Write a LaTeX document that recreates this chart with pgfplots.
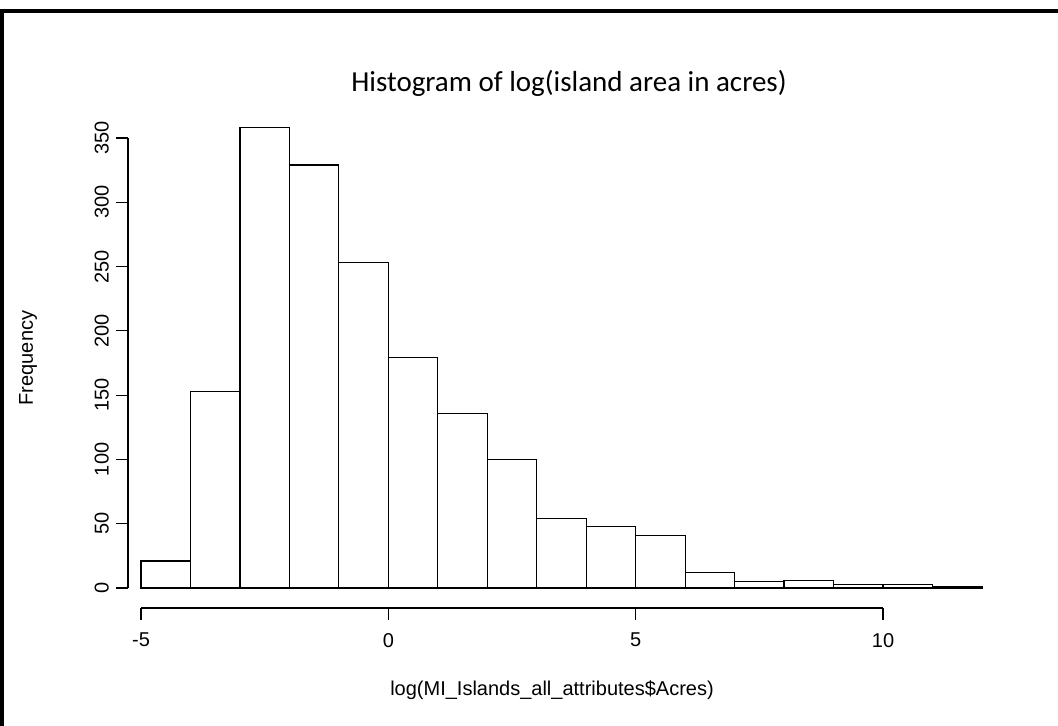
\documentclass[border=0pt]{standalone}
\usepackage{pgfplots}
\pgfplotsset{compat=1.18}
\usepackage{fontspec}
\setmainfont{Liberation Sans}
\newfontfamily\titlefont{Carlito}
\begin{document}
\begin{tikzpicture}
\path[use as bounding box] (0pt,0pt) rectangle (529pt,-363pt);
\fill[white] (0pt,0pt) rectangle (529pt,-363pt);
% frame
\draw[line width=2pt,black] (1pt,-363pt) -- (1pt,-5.5pt) -- (529pt,-5.5pt);
\begin{axis}[
  name=main,
  scale only axis,
  width=371pt, height=235pt,
  at={(70.5pt,-304pt)}, anchor=south west,
  xmin=-5, xmax=10, ymin=-15.56, ymax=350,
  axis x line*=bottom, axis y line=none,
  clip=false,
  xtick={-5,0,5,10},
  tick align=outside,
  major tick length=6pt,
  tick style={black, line width=0.6pt},
  axis line style={black, line width=0.6pt, -},
  xticklabel style={font=\fontsize{10}{12}\selectfont, yshift=-3pt},
  /pgf/number format/assume math mode=true,
]
\addplot[ybar interval, fill=white, draw=black, line width=0.6pt] coordinates {
(-5,21) (-4,153) (-3,358) (-2,329) (-1,253) (0,179) (1,136) (2,100)
(3,54) (4,48) (5,41) (6,12) (7,5) (8,6) (9,3) (10,3) (11,1) (12,1)
};
\end{axis}
\begin{axis}[
  scale only axis,
  width=10pt, height=225pt,
  at={(64pt,-294pt)}, anchor=south west,
  xmin=0, xmax=1, ymin=0, ymax=350,
  axis y line*=left, axis x line=none,
  ytick={0,50,...,350},
  tick align=outside,
  major tick length=6pt,
  tick style={black, line width=0.6pt},
  axis line style={black, line width=0.6pt, -},
  yticklabel style={font=\fontsize{10}{12}\selectfont, rotate=90, anchor=south},
  /pgf/number format/assume math mode=true,
]
\end{axis}
\node[font=\titlefont\fontsize{14.5}{17}\selectfont] at (284.5pt,-41.5pt) {Histogram of log(island area in acres)};
\node[font=\fontsize{10}{12}\selectfont] at (276pt,-345pt) {log(MI\_Islands\_all\_attributes\$Acres)};
\node[font=\fontsize{10}{12}\selectfont, rotate=90] at (14pt,-179pt) {Frequency};
\end{tikzpicture}
\end{document}
